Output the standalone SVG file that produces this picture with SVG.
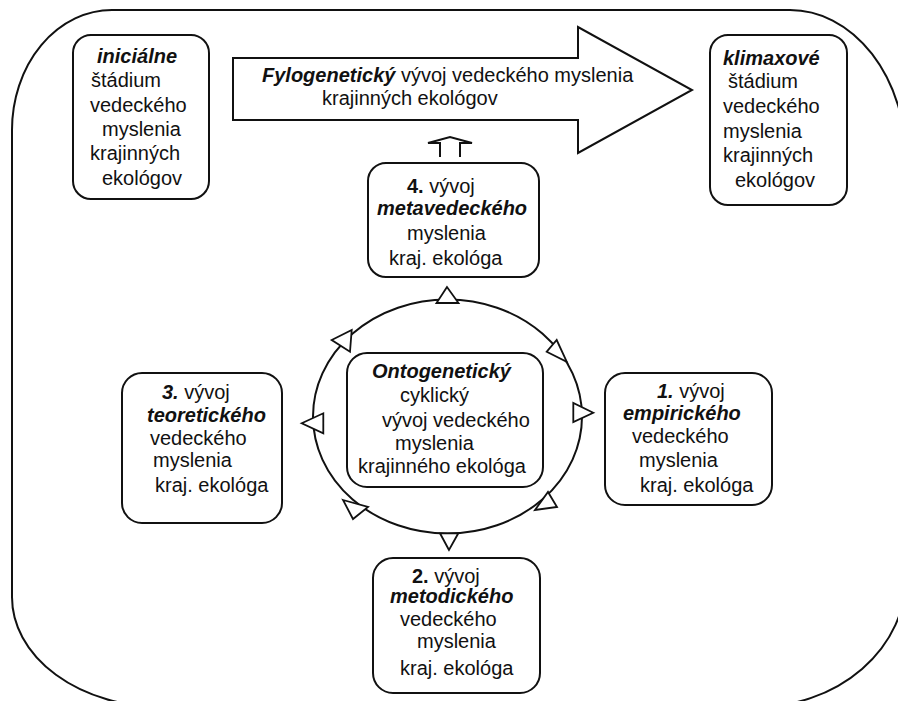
<svg xmlns="http://www.w3.org/2000/svg" width="898" height="701" viewBox="0 0 898 701">
<style>
  .box { fill: #fff; stroke: #111; stroke-width: 2; }
  .ln { fill: none; stroke: #111; stroke-width: 2; }
  .ah { fill: #fff; stroke: #111; stroke-width: 1.8; stroke-linejoin: miter; }
  text { font-family: "Liberation Sans", Arial, sans-serif; font-size: 20px; fill: #111; }
  .bi { font-weight: bold; font-style: italic; }
  .b { font-weight: bold; }
</style>
<rect width="898" height="701" fill="#fff"/>
<g id="frame">
  <path class="ln" d="M 12 130 A 100 120 0 0 1 112 10 L 790 10 A 116 150 0 0 1 906 160 L 906 577 A 150 130 0 0 1 756 707 L 162 707 A 150 110 0 0 1 12 597 Z"/>
</g>
<g id="connectors">
  <path class="box" d="M 233 58 L 578 58 L 578 27 L 692 90 L 578 153 L 578 120 L 233 120 Z"/>
  <path class="box" d="M 440 157 V 143 H 428 L 450 137 L 472 143 H 460 V 157"/>
  <ellipse class="ln" cx="447.5" cy="416.5" rx="134.5" ry="117"/>
  <polygon class="ah" points="447,287 436.5,303 458.5,303"/>
  <polygon class="ah" points="566.7,361.7 556.7,340 546.7,351.7"/>
  <polygon class="ah" points="593.3,412.7 573.3,403 573.3,422"/>
  <polygon class="ah" points="535,510 548,492 557,507"/>
  <polygon class="ah" points="449,550 440,533.3 458.3,533.3"/>
  <polygon class="ah" points="343,500 368,507 353,519"/>
  <polygon class="ah" points="301.7,423.3 323.3,413.3 323.3,433.3"/>
  <polygon class="ah" points="331.7,340 351.7,330 350,351.7"/>
</g>
<g id="fylo-label">
  <text x="262" y="82"><tspan class="bi">Fylogenetický</tspan> vývoj vedeckého myslenia</text>
  <text x="322" y="105">krajinných ekológov</text>
</g>
<g id="node-initial">
  <rect class="box" x="73" y="35" width="136" height="164" rx="18"/>
  <text x="97" y="63" class="bi">iniciálne</text>
  <text x="91" y="87">štádium</text>
  <text x="90" y="112">vedeckého</text>
  <text x="102" y="136">myslenia</text>
  <text x="90" y="160">krajinných</text>
  <text x="102" y="185">ekológov</text>
</g>
<g id="node-climax">
  <rect class="box" x="710" y="35" width="137" height="170" rx="18"/>
  <text x="723" y="65" class="bi">klimaxové</text>
  <text x="728" y="88">štádium</text>
  <text x="723" y="113">vedeckého</text>
  <text x="723" y="138">myslenia</text>
  <text x="723" y="162">krajinných</text>
  <text x="735" y="187">ekológov</text>
</g>
<g id="node-4">
  <rect class="box" x="368" y="163" width="171" height="114" rx="18"/>
  <text x="407" y="193"><tspan class="b">4.</tspan> vývoj</text>
  <text x="377" y="215" class="bi">metavedeckého</text>
  <text x="407" y="240">myslenia</text>
  <text x="389" y="265">kraj. ekológa</text>
</g>
<g id="node-onto">
  <rect class="box" x="347" y="353" width="196" height="134" rx="20"/>
  <text x="372" y="378" class="bi">Ontogenetický</text>
  <text x="400" y="402">cyklický</text>
  <text x="382" y="427">vývoj vedeckého</text>
  <text x="395" y="450">myslenia</text>
  <text x="358" y="473">krajinného ekológa</text>
</g>
<g id="node-3">
  <rect class="box" x="122" y="373" width="160" height="150" rx="20"/>
  <text x="162" y="399"><tspan class="bi">3.</tspan> vývoj</text>
  <text x="147" y="422" class="bi">teoretického</text>
  <text x="150" y="445">vedeckého</text>
  <text x="153" y="467">myslenia</text>
  <text x="155" y="492">kraj. ekológa</text>
</g>
<g id="node-1">
  <rect class="box" x="605" y="373" width="167" height="132" rx="20"/>
  <text x="657" y="398"><tspan class="bi">1.</tspan> vývoj</text>
  <text x="623" y="420" class="bi">empirického</text>
  <text x="632" y="443">vedeckého</text>
  <text x="639" y="467">myslenia</text>
  <text x="640" y="492">kraj. ekológa</text>
</g>
<g id="node-2">
  <rect class="box" x="373" y="558" width="167" height="135" rx="20"/>
  <text x="412" y="583"><tspan class="b">2.</tspan> vývoj</text>
  <text x="390" y="603" class="bi">metodického</text>
  <text x="400" y="626">vedeckého</text>
  <text x="417" y="648">myslenia</text>
  <text x="400" y="675">kraj. ekológa</text>
</g>
</svg>
